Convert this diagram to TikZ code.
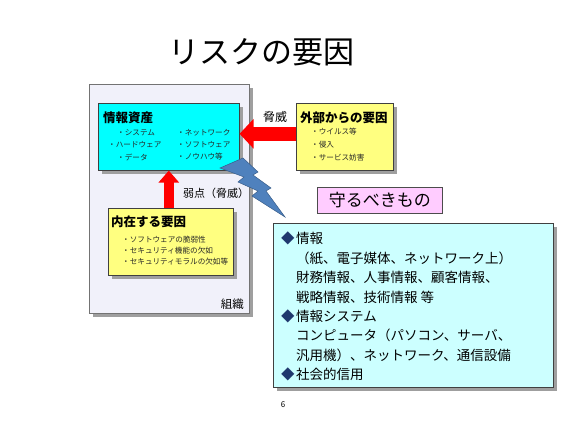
\documentclass[tikz,border=0pt]{standalone}
\usepackage{fontspec}
\setmainfont{Noto Sans CJK JP}
\usetikzlibrary{arrows.meta,shadows,calc}
\definecolor{orgfill}{RGB}{241,241,250}
\definecolor{assetfill}{RGB}{0,255,255}
\definecolor{yelfill}{RGB}{255,255,128}
\definecolor{pinkfill}{RGB}{255,204,255}
\definecolor{infofill}{RGB}{204,255,255}
\definecolor{boltfill}{RGB}{79,129,189}
\definecolor{boltline}{RGB}{56,93,138}
\definecolor{bulletc}{RGB}{31,56,110}
\definecolor{arrowred}{RGB}{255,0,0}
\tikzset{
  shad/.style={drop shadow={shadow xshift=4pt,shadow yshift=-4pt,fill=gray!75,opacity=1}},
  box/.style={draw=black!75,line width=0.6pt,anchor=north west,inner sep=0pt},
  ttl/.style={font=\fontsize{12.5}{14}\selectfont\bfseries,anchor=west,inner sep=0pt},
  itm/.style={font=\fontsize{7.6}{9}\selectfont,anchor=west,inner sep=0pt,text=black!85},
  lbl/.style={font=\fontsize{11.5}{13}\selectfont,inner sep=0pt},
  fat/.style={draw=arrowred,line width=#1},
}
\begin{document}
\begin{tikzpicture}[x=1pt,y=-1pt]
\useasboundingbox (0,0) rectangle (565,424);
\fill[white] (0,0) rectangle (565,424);

% title
\node[font=\fontsize{31}{34}\selectfont,inner sep=0pt] (title) at (261,52) {リスクの要因};

% organisation box
\node[box,shad,draw=black!55,fill=orgfill,minimum width=160,minimum height=229] (org) at (89,84) {};
\node[lbl,anchor=south east] (orglbl) at (244,310) {組織};

% information asset box
\node[box,shad,fill=assetfill,minimum width=141,minimum height=67] (asset) at (98,103) {};
\node[ttl] (assetttl) at (103,118) {情報資産};
\node[itm] (a1) at (117,133) {・システム};
\node[itm] (a2) at (108,145) {・ハードウェア};
\node[itm] (a3) at (117,157) {・データ};
\node[itm] (a4) at (177,133) {・ネットワーク};
\node[itm] (a5) at (177,145) {・ソフトウェア};
\node[itm] (a6) at (177,157) {・ノウハウ等};

% external factors
\node[box,shad,fill=yelfill,minimum width=97,minimum height=67] (ext) at (296,103) {};
\node[ttl] (extttl) at (300,118) {外部からの要因};
\node[itm] (e1) at (311,132) {・ウイルス等};
\node[itm] (e2) at (311,145) {・侵入};
\node[itm] (e3) at (311,158) {・サービス妨害};
\node[lbl,font=\fontsize{12}{13}\selectfont] (threat) at (275,117) {脅威};

% internal factors
\node[box,shad,fill=yelfill,minimum width=125,minimum height=67] (intl) at (108,208) {};
\node[ttl] (intttl) at (111,222) {内在する要因};
\node[itm] (i1) at (122,240) {・ソフトウェアの脆弱性};
\node[itm] (i2) at (122,251) {・セキュリティ機能の欠如};
\node[itm] (i3) at (122,262) {・セキュリティモラルの欠如等};
\node[lbl,font=\fontsize{11}{13}\selectfont,anchor=west] (weak) at (183,193) {弱点（脅威）};

% red arrows
\draw[fat=14pt,-{Triangle[width=29pt,length=14pt]}] ([yshift=3]ext.west) -- ([yshift=3]asset.east);
\draw[fat=10pt,-{Triangle[width=20pt,length=12pt]}] ([xshift=-2]intl.north) -- ([xshift=-2]intl.north |- asset.south);

% lightning bolt
\filldraw[fill=boltfill,draw=boltline,line width=0.5pt,line join=miter]
  (220,168) -- (243,158) -- (258,172) -- (253,175) -- (271,188) -- (266,191)
  -- (285,217) -- (252,196) -- (258,191) -- (238,182) -- (244,177) -- cycle;

% to protect
\node[box,fill=pinkfill,draw=black!70,minimum width=125,minimum height=26,
      font=\fontsize{17}{19}\selectfont] (prot) at (317,187) {守るべきもの};

\node[box,shad,fill=infofill,minimum width=280,minimum height=164] (info) at (273,223) {};
\node[anchor=north west,inner sep=0pt,align=left,font=\fontsize{13.5}{19.4}\selectfont] (infotxt) at (281,232)
 {\makebox[15pt][l]{\textcolor{bulletc}{◆}}情報\\
  \hspace{15pt}（紙、電子媒体、ネットワーク上）\\
  \hspace{15pt}財務情報、人事情報、顧客情報、\\
  \hspace{15pt}戦略情報、技術情報 等\\
  \makebox[15pt][l]{\textcolor{bulletc}{◆}}情報システム\\
  \hspace{15pt}コンピュータ（パソコン、サーバ、\\
  \hspace{15pt}汎用機）、ネットワーク、通信設備\\
  \makebox[15pt][l]{\textcolor{bulletc}{◆}}社会的信用};

% page number
\node[font=\fontsize{8}{9}\selectfont,inner sep=0pt] (pg) at (283,405) {6};
\end{tikzpicture}
\end{document}
